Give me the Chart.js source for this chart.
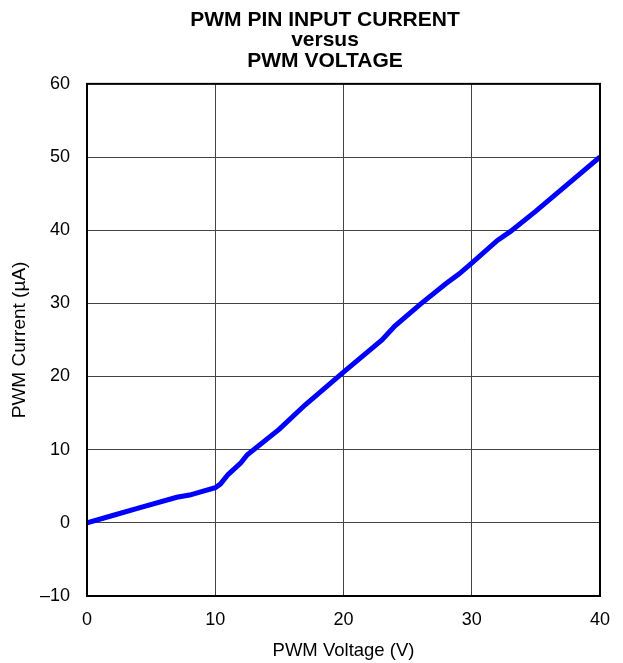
<!DOCTYPE html>
<html>
<head>
<meta charset="utf-8">
<script src="https://cdn.jsdelivr.net/npm/chart.js@4"></script>
<style>
  html, body { margin: 0; padding: 0; background: #fff; }
  #wrap { width: 623px; height: 663px; }
</style>
</head>
<body>
<div id="wrap"><canvas id="myChart" width="623" height="663"></canvas></div>
<script>
// dati
const voltage = [0, 2, 4, 7, 8, 10, 10.4, 11, 12, 12.5, 15, 17, 20, 23, 24, 26, 28, 29, 30, 32, 33, 35, 40];
const current = [0, 1.0, 2.0, 3.5, 3.8, 4.8, 5.3, 6.6, 8.2, 9.3, 12.8, 16.1, 20.6, 25.0, 26.9, 29.9, 32.7, 34.0, 35.5, 38.6, 39.8, 42.6, 50];
const titleLines = ['PWM PIN INPUT CURRENT', 'versus', 'PWM VOLTAGE'];
const xTitle = 'PWM Voltage (V)';
const yTitle = 'PWM Current (µA)';

const ctx = document.getElementById('myChart').getContext('2d');
Chart.defaults.font.family = "'Liberation Sans', Arial, sans-serif";
Chart.defaults.color = '#000';

// bordo nero attorno all'area del grafico + titolo spostato come nell'originale
const frame = {
    id: 'frame',
    afterLayout(chart) {
        const t = chart.titleBlock;
        if (t) { t.left += 24.5; t.right += 24.5; }
    },
    afterDraw(chart) {
        const a = chart.chartArea;
        const c = chart.ctx;
        c.save();
        c.strokeStyle = '#000';
        c.lineWidth = 2;
        c.strokeRect(a.left, a.top, a.right - a.left, a.bottom - a.top);
        c.restore();
    }
};

const myChart = new Chart(ctx, {
    type: 'line',
    data: {
        datasets: [{
            data: voltage.map((v, i) => ({x: v, y: current[i]})),
            borderColor: '#0000ff',
            borderWidth: 5,
            pointRadius: 0,
            tension: 0,
            fill: false
        }]
    },
    options: {
        responsive: false,
        animation: false,
        layout: { padding: { left: 0, right: 22, top: 0, bottom: 0 } },
        plugins: {
            legend: { display: false },
            tooltip: { enabled: false },
            title: {
                display: true,
                text: titleLines,
                font: { size: 21, weight: 'bold', lineHeight: 0.99 },
                padding: { top: 9.5, bottom: 12 },
                color: '#000'
            }
        },
        scales: {
            x: {
                type: 'linear',
                min: 0,
                max: 40,
                ticks: { stepSize: 10, padding: 13, font: { size: 18 }, color: '#000', maxRotation: 0 },
                grid: { color: '#444', lineWidth: 1, drawTicks: false },
                border: { display: false },
                title: { display: true, text: xTitle, font: { size: 18.5, lineHeight: 1.2 }, padding: { top: 0, bottom: 1 }, color: '#000' },
                afterFit(scale) { scale.height = 67; }
            },
            y: {
                min: -10,
                max: 60,
                ticks: {
                    stepSize: 10,
                    padding: 17,
                    font: { size: 18 },
                    color: '#000',
                    callback: function(value) {
                        return value < 0 ? '\u2013' + Math.abs(value) : String(value);
                    }
                },
                grid: { color: '#444', lineWidth: 1, drawTicks: false },
                border: { display: false },
                title: { display: true, text: yTitle, font: { size: 19, lineHeight: 1.2 }, padding: { top: 8.6, bottom: 0 }, color: '#000' },
                afterFit(scale) { scale.width = 87; }
            }
        }
    },
    plugins: [frame]
});
</script>
</body>
</html>
